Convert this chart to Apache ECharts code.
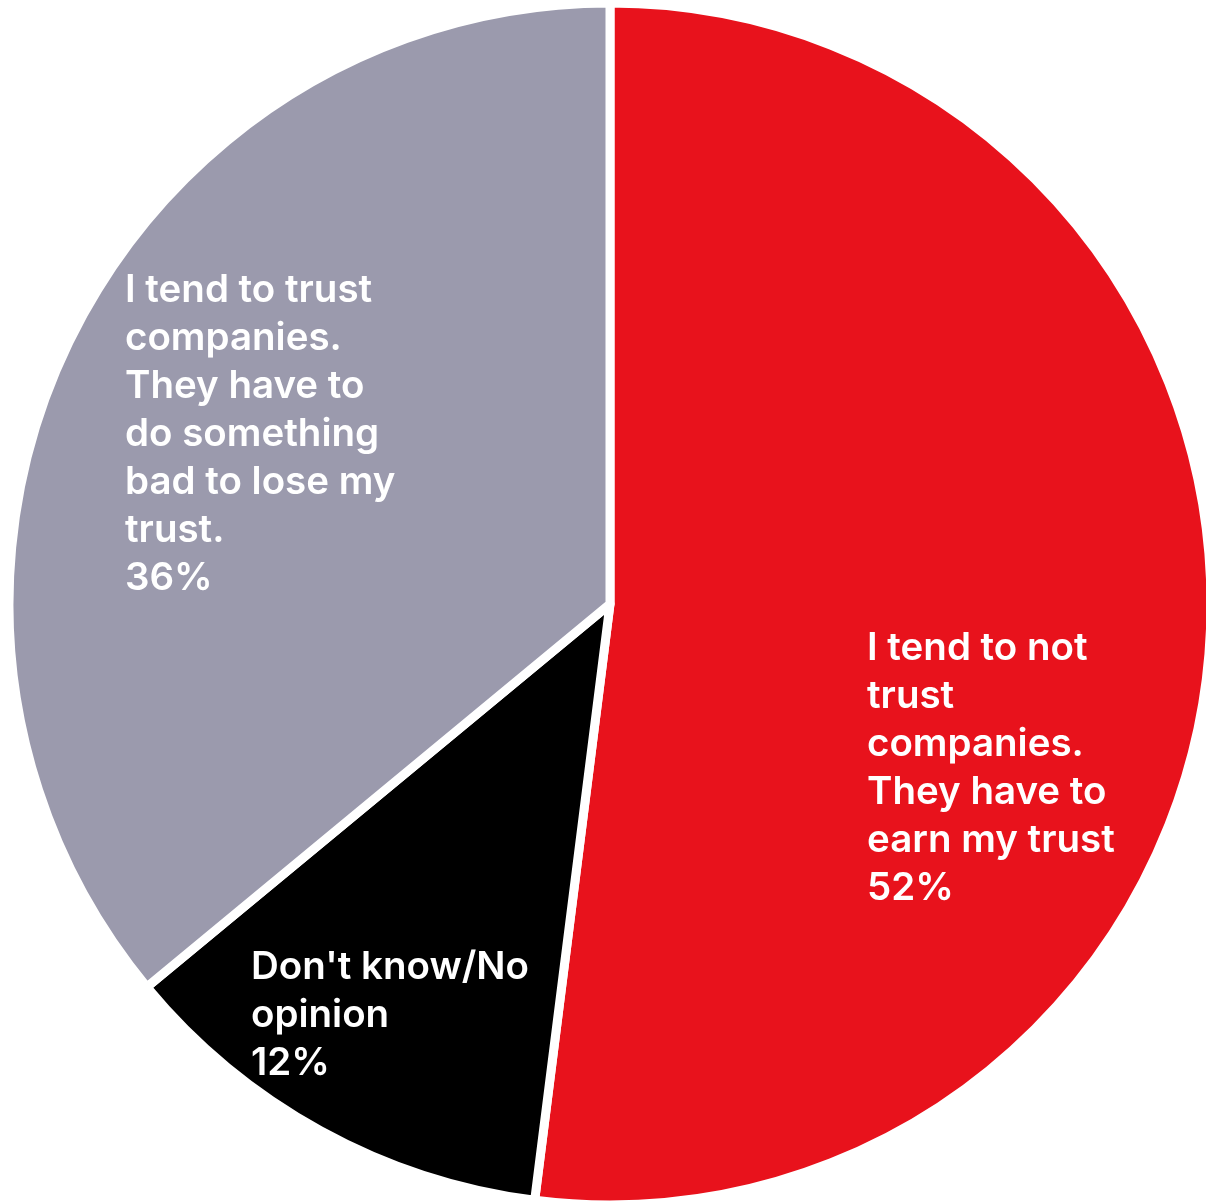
<!DOCTYPE html>
<html>
<head>
<meta charset="utf-8">
<script src="https://cdn.jsdelivr.net/npm/echarts@6/dist/echarts.min.js"></script>
<style>
html,body{margin:0;padding:0;background:#fff;}
#chart{width:1206px;height:1203px;}
</style>
</head>
<body>
<div id="chart"></div>
<script>
var categories = [
  "I tend to not\ntrust\ncompanies.\nThey have to\nearn my trust",
  "Don't know/No\nopinion",
  "I tend to trust\ncompanies.\nThey have to\ndo something\nbad to lose my\ntrust."
];
var values = [52, 12, 36];
var colors = ["#E8121C", "#000000", "#9B9AAD"];

var labelPos = [
  {x: 867, y: 624},
  {x: 251, y: 943},
  {x: 125, y: 266}
];

var chart = echarts.init(document.getElementById('chart'));
chart.setOption({
  animation: false,
  backgroundColor: '#ffffff',
  series: [{
    type: 'pie',
    center: [610, 604],
    radius: [0, 601],
    startAngle: 90,
    clockwise: true,
    silent: true,
    data: categories.map(function (c, i) {
      return { name: c, value: values[i], itemStyle: { color: colors[i] } };
    }),
    itemStyle: { borderColor: '#ffffff', borderWidth: 9 },
    label: {
      show: true,
      position: 'inside',
      formatter: function (p) { return p.name + '\n' + p.value + '%'; },
      color: '#ffffff',
      fontFamily: 'Inter, "Noto Sans", sans-serif',
      fontWeight: 600,
      fontSize: 38.5,
      lineHeight: 48,
      align: 'left'
    },
    labelLine: { show: false },
    labelLayout: function (params) {
      var p = labelPos[params.dataIndex];
      return { x: p.x, y: p.y, align: 'left', verticalAlign: 'top' };
    }
  }]
});
</script>
</body>
</html>
